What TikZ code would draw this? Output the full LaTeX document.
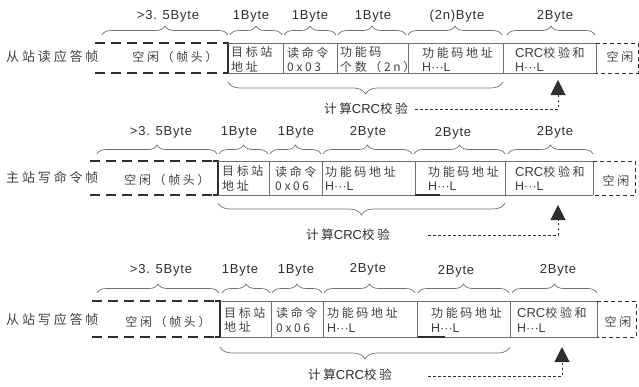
\documentclass[tikz,border=0pt]{standalone}
\usepackage{fontspec}
\newfontfamily\cj[LetterSpace=22]{Noto Sans CJK SC}
\newfontfamily\latn{Liberation Sans}
\newfontfamily\lat[LetterSpace=6]{Liberation Sans}
\newcommand\hlx{{\latn\fontsize{12.5}{14.5}\selectfont H···L}}
\newcommand\crcx{{\latn\fontsize{13}{14.5}\selectfont CRC}}
\usetikzlibrary{decorations.pathreplacing,arrows.meta}
\definecolor{ln}{HTML}{707070}
\definecolor{dk}{HTML}{2E2E2E}
\definecolor{tx}{HTML}{404040}
\tikzset{
 frame/.style={draw=ln,line width=0.7pt},
 idle/.style={draw=dk,line width=1.3pt,dash pattern=on 10pt off 6pt},
 brk/.style={draw=dk,line width=1.6pt},
 idleb/.style={draw=dk,line width=1pt,dash pattern=on 4pt off 3pt},
 brc/.style={draw=ln,line width=0.7pt,decorate,decoration={brace,amplitude=9pt}},
 bbrc/.style={draw=ln,line width=0.7pt,decorate,decoration={brace,amplitude=12pt}},
 bytel/.style={font=\lat\fontsize{13}{15}\selectfont,text=dk,inner sep=0pt},
 cell/.style={font=\cj\fontsize{12}{14.5}\selectfont,text=tx,align=left,anchor=west,inner sep=0pt},
 ctext/.style={font=\cj\fontsize{12}{14.5}\selectfont,text=tx,inner sep=0pt},
 rowlab/.style={font=\cj\fontsize{13}{15}\selectfont,text=tx,anchor=west,inner sep=0pt},
 calc/.style={font=\cj\fontsize{12.5}{15}\selectfont,text=dk,inner sep=0pt},
 dotl/.style={draw=dk,line width=1pt,dash pattern=on 2.5pt off 2.5pt,-{Triangle[width=15pt,length=15pt]}},
 smudge/.style={draw=dk,line width=1.4pt}
}
\begin{document}
\begin{tikzpicture}[x=1pt,y=-1pt]
\useasboundingbox (0,0) rectangle (639,386);

% ================= Row 1 =================
\node[rowlab] (n1) at (6,57) {从站读应答帧};
\draw[idle] (95,43) -- (224,43);
\draw[idle] (95,73) -- (224,73);
\draw[brk] (223,43) -- (228,43) -- (228,73) -- (223,73);
\draw[frame] (228,43) -- (596,43) (228,73) -- (596,73);
\foreach \x in {283,337,408,503,596} \draw[frame] (\x,43) -- (\x,73);
\draw[idleb] (596,43) -- (638,43) -- (638,73) -- (596,73);
\node[ctext] (i1) at (175,57) {空闲（帧头）};
\node[ctext] (e1) at (620,57) {空闲};
\node[cell] (a1) at (231,59.5) {目标站\\地址};
\node[cell] (b1) at (287,59.5) {读命令\\0x03};
\node[cell] (c1) at (340,59.5) {功能码\\个数（2n）};
\node[cell] (d1) at (422,59.5) {功能码地址\\\hlx};
\node[cell] (f1) at (515,59.5) {\crcx 校验和\\\hlx};
\node[bytel] (y11) at (168,16) {>3. 5Byte};
\node[bytel] (y12) at (251,16) {1Byte};
\node[bytel] (y13) at (310,16) {1Byte};
\node[bytel] (y14) at (373,16) {1Byte};
\node[bytel] (y15) at (457,16) {(2n)Byte};
\node[bytel] (y16) at (555,16) {2Byte};
\draw[brc] (102,35) -- (228,35);
\draw[brc] (230,35) -- (282,35);
\draw[brc] (284,35) -- (336,35);
\draw[brc] (338,35) -- (406,35);
\draw[brc] (408,35) -- (502,35);
\draw[brc] (507,35) -- (595,35);
\draw[bbrc] (503,82) -- (228,82);
\node[calc] (k1) at (366,109) {计算\crcx 校验};
\coordinate (s1) at (415,109);
\coordinate (t1) at (558,80);
\draw[dotl] (s1) -| (t1);

% ================= Row 2 =================
\node[rowlab] (n2) at (6,178) {主站写命令帧};
\draw[idle] (90,161) -- (214,161);
\draw[idle] (90,195) -- (214,195);
\draw[brk] (213,161) -- (218,161) -- (218,195) -- (213,195);
\draw[frame] (218,161) -- (593,161) (218,195) -- (593,195);
\foreach \x in {269,322,415,505,593} \draw[frame] (\x,161) -- (\x,195);
\draw[idleb] (593,161) -- (635,161) -- (635,195) -- (593,195);
\draw[smudge] (415,195) -- (440,195);
\node[ctext] (i2) at (167,180) {空闲（帧头）};
\node[ctext] (e2) at (616,181) {空闲};
\node[cell] (a2) at (222,178.5) {目标站\\地址};
\node[cell] (b2) at (275,178.5) {读命令\\0x06};
\node[cell] (c2) at (325,178.5) {功能码地址\\\hlx};
\node[cell] (d2) at (428,178.5) {功能码地址\\\hlx};
\node[cell] (f2) at (515,178.5) {\crcx 校验和\\\hlx};
\node[bytel] (y21) at (161,132) {>3. 5Byte};
\node[bytel] (y22) at (239,132) {1Byte};
\node[bytel] (y23) at (296,132) {1Byte};
\node[bytel] (y24) at (368,132) {2Byte};
\node[bytel] (y25) at (453,133) {2Byte};
\node[bytel] (y26) at (555,132) {2Byte};
\draw[brc] (97,154) -- (217,154);
\draw[brc] (219,154) -- (268,154);
\draw[brc] (270,154) -- (321,154);
\draw[brc] (323,154) -- (412,154);
\draw[brc] (414,154) -- (505,154);
\draw[brc] (508,154) -- (593,154);
\draw[bbrc] (505,203) -- (218,203);
\node[calc] (k2) at (348,235) {计算\crcx 校验};
\coordinate (s2) at (428,235);
\coordinate (t2) at (558,205);
\draw[dotl] (s2) -| (t2);

% ================= Row 3 =================
\node[rowlab] (n3) at (6,320) {从站写应答帧};
\draw[idle] (92,301) -- (216,301);
\draw[idle] (92,337) -- (216,337);
\draw[brk] (215,301) -- (220,301) -- (220,337) -- (215,337);
\draw[frame] (220,301) -- (597,301) (220,337) -- (597,337);
\foreach \x in {271,323,417,510,597} \draw[frame] (\x,301) -- (\x,337);
\draw[idleb] (597,301) -- (636,301) -- (636,337) -- (597,337);
\draw[smudge] (418,337) -- (445,337);
\node[ctext] (i3) at (168,322) {空闲（帧头）};
\node[ctext] (e3) at (618,322) {空闲};
\node[cell] (a3) at (224,320) {目标站\\地址};
\node[cell] (b3) at (276,320) {读命令\\0x06};
\node[cell] (c3) at (327,320) {功能码地址\\\hlx};
\node[cell] (d3) at (431,320) {功能码地址\\\hlx};
\node[cell] (f3) at (517,320) {\crcx 校验和\\\hlx};
\node[bytel] (y31) at (161,270) {>3. 5Byte};
\node[bytel] (y32) at (240,270) {1Byte};
\node[bytel] (y33) at (296,270) {1Byte};
\node[bytel] (y34) at (368,269) {2Byte};
\node[bytel] (y35) at (456,271) {2Byte};
\node[bytel] (y36) at (558,270) {2Byte};
\draw[brc] (97,293) -- (219,293);
\draw[brc] (222,293) -- (270,293);
\draw[brc] (272,293) -- (322,293);
\draw[brc] (324,293) -- (415,293);
\draw[brc] (418,293) -- (509,293);
\draw[brc] (512,293) -- (597,293);
\draw[bbrc] (510,347) -- (220,347);
\node[calc] (k3) at (350,375) {计算\crcx 校验};
\coordinate (s3) at (428,376);
\coordinate (t3) at (562,347);
\draw[dotl] (s3) -| (t3);
\end{tikzpicture}
\end{document}
